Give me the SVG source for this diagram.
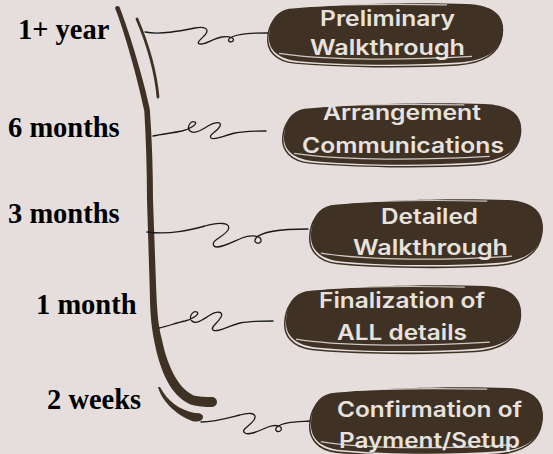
<svg xmlns="http://www.w3.org/2000/svg" xmlns:xlink="http://www.w3.org/1999/xlink" width="553" height="454" viewBox="0 0 553 454">
<style>
.bg{fill:#e5dedc}
.label{font-family:"Liberation Serif","Times New Roman",serif;font-weight:bold;font-size:28.5px;fill:#000}
.btxt{font-family:Inter,"Open Sans",sans-serif;font-weight:600;font-size:21px;fill:#e8e2df;text-anchor:middle}
.conn{fill:none;stroke:#1a1a1a;stroke-width:1.3;stroke-linecap:round}
.brown{fill:#3f3225}
.outline{fill:none;stroke:#3f3225;stroke-width:1.5}
.scratch{fill:none;stroke:#e8e2df;stroke-width:1.2;opacity:0.85}
</style>
<defs>
<path id="blobFill" d="M22,6 C70,1 150,-1 200,1 C225,2 237,12 236,28 C235,46 224,58 195,61 C140,65 75,64 32,60 C12,58 1,49 2,34 C3,18 9,9 22,6 Z"/>
<path id="blobOutline" d="M18,10 C60,4 150,3 205,4 C228,6 238,18 235,34 C232,52 218,62 190,64 C140,67 70,66 28,62 C8,60 -1,48 1,34 C2,22 8,13 18,10 Z"/>
<path id="blobScratch" d="M30,4 C80,1 130,1 180,2 M12,52 C50,58 120,60 205,55"/>
</defs>
<rect class="bg" x="0" y="0" width="553" height="454"/>

<g id="timeline">
<path class="brown" d="M119.5,7 C128,28 144,80 149.8,109 C152,140 153,170 153,200 L156.2,289 C157,310 158,325 161.8,339 C165,355 170,368 175.5,377.5 C181,387 187,392 193.5,395.5 C199,397 205,397 212,397 A5,5 0 0 1 212,407 C205,407 197,406.5 190.5,404.5 C180,400 172,390 168,382.5 C161,370 157,355 154.2,341 C151,325 150,310 149.8,291 L147,200 C147,170 146,140 144.3,111 C138,80 124,30 115,8 C115.5,6 118,5 119.5,7 Z"/>
<path d="M137,19 C146,40 155,65 158,97" fill="none" stroke="#3f3225" stroke-width="2.8" stroke-linecap="round"/>
<path class="brown" d="M158,387 C161,399 174,414 192,421 C197,422.5 203,421 203,417 C203,413.5 199,413 195,413 C180,410 168,402 160,387 Z"/>
</g>

<g id="labels">
<text class="label" x="18" y="39">1+ year</text>
<text class="label" x="8" y="137">6 months</text>
<text class="label" x="8" y="223">3 months</text>
<text class="label" x="36" y="314">1 month</text>
<text class="label" x="47" y="409">2 weeks</text>
</g>

<g id="connectors">
<path class="conn" d="M145,32 C160,35 180,31 195,28 C205,26 210,29 205,35 C200,40 195,44 201,44 C207,44 214,38 222,37 C230,36 235,38 233,41 C231,43 226,41 230,38 C238,33 255,33 268,33"/>
<path class="conn" d="M153,136 C163,134 172,133 182,131 C190,129 198,124 195,122 C191,120 186,127 190,131 C194,135 202,130 208,126 C214,122 222,121 220,126 C218,131 208,135 211,138 C215,141 225,135 235,133 C245,131 255,131 266,131"/>
<path class="conn" d="M147,232 C170,235 190,230 205,226 C218,222 232,222 228,230 C224,237 210,240 214,246 C218,250 232,242 242,238 C252,234 262,236 261,241 C260,245 252,243 256,238 C262,231 285,229 308,229"/>
<path class="conn" d="M159,328 C168,326 176,323 185,321 C193,319 200,314 197,312 C193,310 188,317 192,321 C196,325 204,319 210,315 C216,311 224,311 221,317 C218,323 210,327 213,330 C217,333 228,326 240,323 C250,321 262,321 273,321"/>
<path class="conn" d="M201,422 C215,422 228,418 240,415 C250,412 258,413 254,420 C250,426 240,430 245,433 C250,436 260,430 268,427 C276,424 283,426 281,430 C279,433 273,431 277,427 C283,422 295,422 310,421"/>
</g>

<g id="node1" transform="translate(267,3) scale(1,0.97)">
<use href="#blobFill" class="brown"/>
<use href="#blobOutline" class="outline"/>
<use href="#blobScratch" class="scratch"/>
</g>
<g id="node1-text">
<text class="btxt" x="387.5" y="26" textLength="135" lengthAdjust="spacingAndGlyphs">Preliminary</text>
<text class="btxt" x="387.5" y="55" textLength="155" lengthAdjust="spacingAndGlyphs">Walkthrough</text>
</g>

<g id="node2" transform="translate(282,103) scale(1.013,0.97)">
<use href="#blobFill" class="brown"/>
<use href="#blobOutline" class="outline"/>
<use href="#blobScratch" class="scratch"/>
</g>
<g id="node2-text">
<text class="btxt" x="402" y="120" textLength="158" lengthAdjust="spacingAndGlyphs">Arrangement</text>
<text class="btxt" x="403" y="153" textLength="202" lengthAdjust="spacingAndGlyphs">Communications</text>
</g>

<g id="node3" transform="translate(309,199) scale(0.99,1.04)">
<use href="#blobFill" class="brown"/>
<use href="#blobOutline" class="outline"/>
<use href="#blobScratch" class="scratch"/>
</g>
<g id="node3-text">
<text class="btxt" x="429.5" y="223.5" textLength="97" lengthAdjust="spacingAndGlyphs">Detailed</text>
<text class="btxt" x="430.5" y="255" textLength="155" lengthAdjust="spacingAndGlyphs">Walkthrough</text>
</g>

<g id="node4" transform="translate(284,285) scale(1.004,1.04)">
<use href="#blobFill" class="brown"/>
<use href="#blobOutline" class="outline"/>
<use href="#blobScratch" class="scratch"/>
</g>
<g id="node4-text">
<text class="btxt" x="402" y="308" textLength="166" lengthAdjust="spacingAndGlyphs">Finalization of</text>
<text class="btxt" x="402" y="340" textLength="130" lengthAdjust="spacingAndGlyphs">ALL details</text>
</g>

<g id="node5" transform="translate(309,387) scale(0.99,1.05)">
<use href="#blobFill" class="brown"/>
<use href="#blobOutline" class="outline"/>
<use href="#blobScratch" class="scratch"/>
</g>
<g id="node5-text">
<text class="btxt" x="429.5" y="416.5" textLength="185" lengthAdjust="spacingAndGlyphs">Confirmation of</text>
<text class="btxt" x="429.5" y="448" textLength="181" lengthAdjust="spacingAndGlyphs">Payment/Setup</text>
</g>
</svg>
